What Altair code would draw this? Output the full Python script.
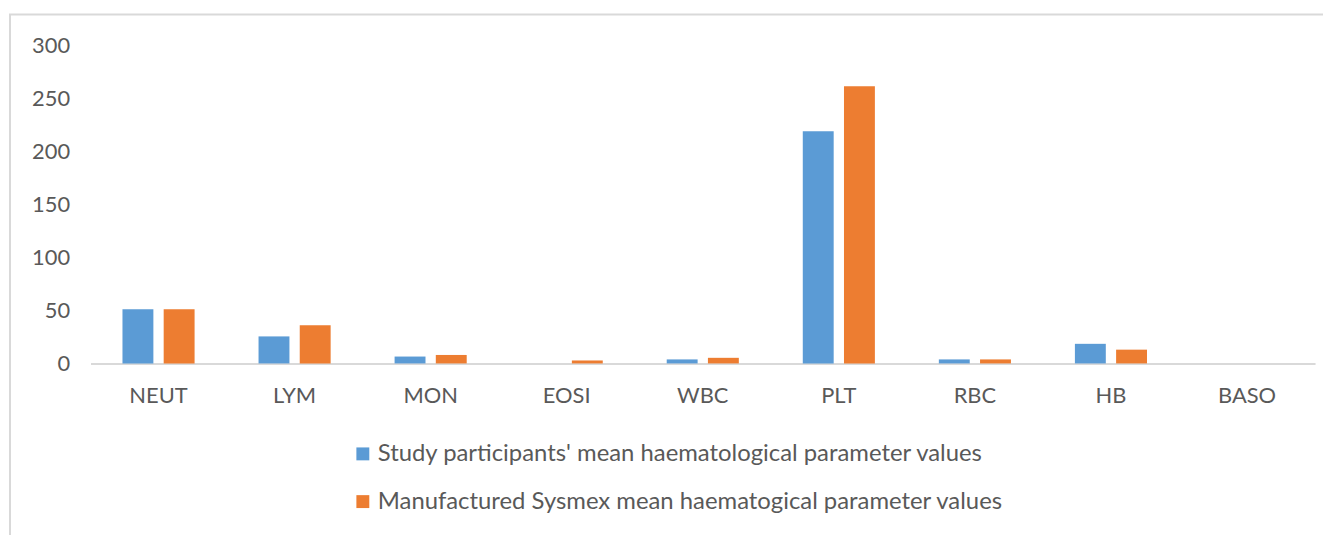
import altair as alt
import pandas as pd

categories = ["NEUT", "LYM", "MON", "EOSI", "WBC", "PLT", "RBC", "HB", "BASO"]
series_names = [
    "Study participants' mean haematological parameter values",
    "Manufactured Sysmex mean haematogical parameter values",
]
study_values = [51, 25.5, 6.5, 0, 3.8, 219, 3.8, 18.5, 0]
sysmex_values = [51, 36, 8, 2.8, 5.3, 261.5, 3.8, 13, 0]
colors = ["#5b9bd5", "#ed7d31"]

rows = []
for c, a, b in zip(categories, study_values, sysmex_values):
    rows.append({"cat": c, "series": series_names[0], "value": a})
    rows.append({"cat": c, "series": series_names[1], "value": b})
df = pd.DataFrame(rows)

FONT = "Lato"
GRAY = "#595959"

bars = alt.Chart(df).mark_bar().encode(
    x=alt.X("cat:N", sort=categories, title=None,
            scale=alt.Scale(paddingInner=0.47, paddingOuter=0.235),
            axis=alt.Axis(labelAngle=0, labelFontSize=22, labelColor=GRAY, labelFont=FONT,
                          ticks=False, domainColor="#d9d9d9", domainWidth=2,
                          labelPadding=22)),
    xOffset=alt.XOffset("series:N", sort=series_names,
                        scale=alt.Scale(paddingInner=0.25, paddingOuter=0)),
    y=alt.Y("value:Q", title=None,
            scale=alt.Scale(domain=[0, 300]),
            axis=alt.Axis(values=[0, 50, 100, 150, 200, 250, 300], grid=False, domain=False,
                          ticks=False, labelFontSize=22, labelColor=GRAY, labelFont=FONT,
                          labelPadding=21)),
    color=alt.Color("series:N", sort=series_names,
                    scale=alt.Scale(domain=series_names, range=colors),
                    legend=alt.Legend(title=None, orient="none", legendX=262, legendY=399,
                                      direction="vertical", symbolType="square",
                                      symbolSize=169, symbolStrokeWidth=0,
                                      labelFontSize=24, labelColor=GRAY, labelFont=FONT,
                                      labelLimit=1000, rowPadding=24, labelOffset=3)),
)

frame_df = pd.DataFrame({"k": [0]})
frame = alt.Chart(frame_df).mark_rect(fill=None, stroke="#d9d9d9", strokeWidth=2).encode(
    x=alt.value(-81), x2=alt.value(1300), y=alt.value(-31), y2=alt.value(560)
)

chart = alt.layer(frame, bars).properties(
    width=1232, height=320,
    autosize=alt.AutoSizeParams(type="none"),
    padding={"left": 83, "top": 36, "right": 8, "bottom": 171},
).configure(background="white").configure_view(stroke=None)

chart.save("out.html", embed_options={"renderer": "svg", "actions": False})
